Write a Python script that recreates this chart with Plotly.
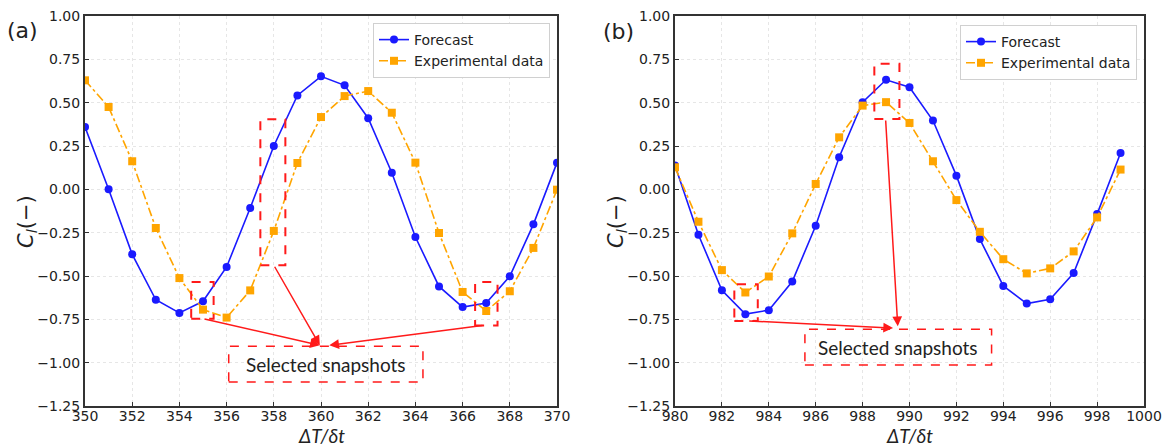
import plotly.graph_objects as go

# ---- data ----
x_a = list(range(350, 371))
forecast_a = [0.36, 0.00, -0.375, -0.637, -0.713, -0.646, -0.448, -0.108, 0.25, 0.542,
              0.652, 0.60, 0.41, 0.096, -0.275, -0.56, -0.679, -0.656, -0.502, -0.202, 0.154]
exper_a = [0.629, 0.475, 0.162, -0.223, -0.512, -0.694, -0.74, -0.583, -0.24, 0.152,
           0.417, 0.538, 0.567, 0.442, 0.154, -0.252, -0.592, -0.702, -0.588, -0.338, -0.002]

x_b = list(range(980, 1000))
forecast_b = [0.137, -0.262, -0.582, -0.72, -0.697, -0.532, -0.21, 0.185, 0.503, 0.632,
              0.589, 0.397, 0.079, -0.287, -0.557, -0.659, -0.634, -0.483, -0.143, 0.21]
exper_b = [0.127, -0.187, -0.466, -0.595, -0.503, -0.254, 0.031, 0.30, 0.483, 0.503,
           0.383, 0.162, -0.062, -0.245, -0.403, -0.485, -0.456, -0.358, -0.162, 0.114]

y_ticks = [1.00, 0.75, 0.50, 0.25, 0.00, -0.25, -0.50, -0.75, -1.00, -1.25]
x_ticks_a = list(range(350, 371, 2))
x_ticks_b = list(range(980, 1001, 2))

# selected-snapshot boxes (x0, x1, y0, y1)
boxes_a = [(354.5, 355.45, -0.746, -0.535), (357.43, 358.49, -0.438, 0.404), (366.53, 367.48, -0.785, -0.535)]
boxes_b = [(982.53, 983.53, -0.759, -0.547), (988.5, 989.57, 0.406, 0.724)]
label_box_a = (356.09, 364.32, -1.112, -0.906)
label_box_b = (985.54, 993.5, -1.013, -0.807)
# arrows: (tail x, tail y, head x, head y)
arrows_a = [(355.0, -0.746, 359.95, -0.9), (358.0, -0.438, 359.95, -0.9), (366.9, -0.785, 360.35, -0.9)]
arrows_b = [(983.1, -0.759, 989.3, -0.80), (988.98, 0.406, 989.5, -0.79)]

BLUE = "#1a1aff"
ORANGE = "#ffa500"
RED = "#ff1a1a"
FONT = "DejaVu Sans"

fig = go.Figure()

def add_panel(xs, fc, ex, xaxis, yaxis, legend):
    fig.add_trace(go.Scatter(x=xs, y=fc, mode="lines+markers", name="Forecast",
                             line=dict(color=BLUE, width=1.6),
                             marker=dict(symbol="circle", size=8, color=BLUE),
                             xaxis=xaxis, yaxis=yaxis, legend=legend))
    fig.add_trace(go.Scatter(x=xs, y=ex, mode="lines+markers", name="Experimental data",
                             line=dict(color=ORANGE, width=1.6, dash="dashdot"),
                             marker=dict(symbol="square", size=8, color=ORANGE),
                             xaxis=xaxis, yaxis=yaxis, legend=legend))

add_panel(x_a, forecast_a, exper_a, "x", "y", "legend")
add_panel(x_b, forecast_b, exper_b, "x2", "y2", "legend2")

axis_common = dict(showline=True, linecolor="#333333", linewidth=2, mirror=True,
                   ticks="inside", ticklen=4, tickcolor="#333333", automargin=False,
                   showgrid=True, gridcolor="#e6e6e6", griddash="dot", gridwidth=1,
                   zeroline=False, tickfont=dict(family=FONT, size=14, color="#222222"))

ydom = [1 - 406 / 446, 1 - 16 / 446]
xdom_a = [85 / 1167, 557 / 1167]
xdom_b = [675 / 1167, 1144 / 1167]
fig.update_layout(
    width=1167, height=446, margin=dict(l=0, r=0, t=0, b=0, autoexpand=False),
    plot_bgcolor="white", paper_bgcolor="white",
    xaxis=dict(domain=xdom_a, range=[350, 370], tickvals=x_ticks_a, ticklabelstandoff=-4,
               anchor="y", **axis_common),
    yaxis=dict(domain=ydom, range=[-1.25, 1.0], tickvals=y_ticks, tickformat=".2f",
               anchor="x", **axis_common),
    xaxis2=dict(domain=xdom_b, range=[980, 1000], tickvals=x_ticks_b, ticklabelstandoff=-4,
                anchor="y2", **axis_common),
    yaxis2=dict(domain=ydom, range=[-1.25, 1.0], tickvals=y_ticks, tickformat=".2f",
                anchor="x2", **axis_common),
    legend=dict(x=550 / 1167, y=1 - 23 / 446, xanchor="right", yanchor="top",
                bgcolor="white", bordercolor="#d0d0d0", borderwidth=1,
                font=dict(family=FONT, size=14, color="#222222"), tracegroupgap=0),
    legend2=dict(x=1137 / 1167, y=1 - 25 / 446, xanchor="right", yanchor="top",
                 bgcolor="white", bordercolor="#d0d0d0", borderwidth=1,
                 font=dict(family=FONT, size=14, color="#222222"), tracegroupgap=0),
    showlegend=True,
)

shapes = []
annotations = []

def add_boxes(boxes, label_box, arrows, xr, yr):
    for (x0, x1, y0, y1) in boxes:
        shapes.append(dict(type="rect", xref=xr, yref=yr, x0=x0, x1=x1, y0=y0, y1=y1,
                           line=dict(color=RED, width=2, dash="dash")))
    lx0, lx1, ly0, ly1 = label_box
    shapes.append(dict(type="rect", xref=xr, yref=yr, x0=lx0, x1=lx1, y0=ly0, y1=ly1,
                       line=dict(color=RED, width=1.5, dash="dash")))
    annotations.append(dict(x=(lx0 + lx1) / 2, y=(ly0 + ly1) / 2, xref=xr, yref=yr,
                            text="Selected snapshots", showarrow=False,
                            font=dict(family="Lato", size=19, color="#222222")))
    for (tx, ty, hx, hy) in arrows:
        annotations.append(dict(x=hx, y=hy, ax=tx, ay=ty, xref=xr, yref=yr,
                                axref=xr, ayref=yr, text="", showarrow=True,
                                arrowhead=2, arrowsize=1.3, arrowwidth=1.5,
                                arrowcolor=RED, standoff=0, startstandoff=0))

add_boxes(boxes_a, label_box_a, arrows_a, "x", "y")
add_boxes(boxes_b, label_box_b, arrows_b, "x2", "y2")

# axis titles & panel labels
title_font = dict(family="Lato", size=19, color="#222222")
for xd in [xdom_a, xdom_b]:
    annotations.append(dict(x=(xd[0] + xd[1]) / 2, y=1 - 435 / 446, xref="paper", yref="paper",
                            xanchor="center", yanchor="middle",
                            text="<i>ΔT/δt</i>", showarrow=False, font=title_font))
for xp in [27 / 1167, 617 / 1167]:
    annotations.append(dict(x=xp, y=1 - 222 / 446, xref="paper", yref="paper",
                            xanchor="center", yanchor="middle",
                            text="<i>C<sub>l</sub></i>(−)", textangle=-90, showarrow=False,
                            font=dict(family=FONT, size=21, color="#222222")))
annotations.append(dict(x=22 / 1167, y=1 - 31 / 446, xref="paper", yref="paper", text="(a)",
                        xanchor="center", yanchor="middle",
                        showarrow=False, font=dict(family=FONT, size=22, color="#222222")))
annotations.append(dict(x=618 / 1167, y=1 - 32 / 446, xref="paper", yref="paper", text="(b)",
                        xanchor="center", yanchor="middle",
                        showarrow=False, font=dict(family=FONT, size=22, color="#222222")))

fig.update_layout(shapes=shapes, annotations=annotations)
fig.write_html("out.html")
